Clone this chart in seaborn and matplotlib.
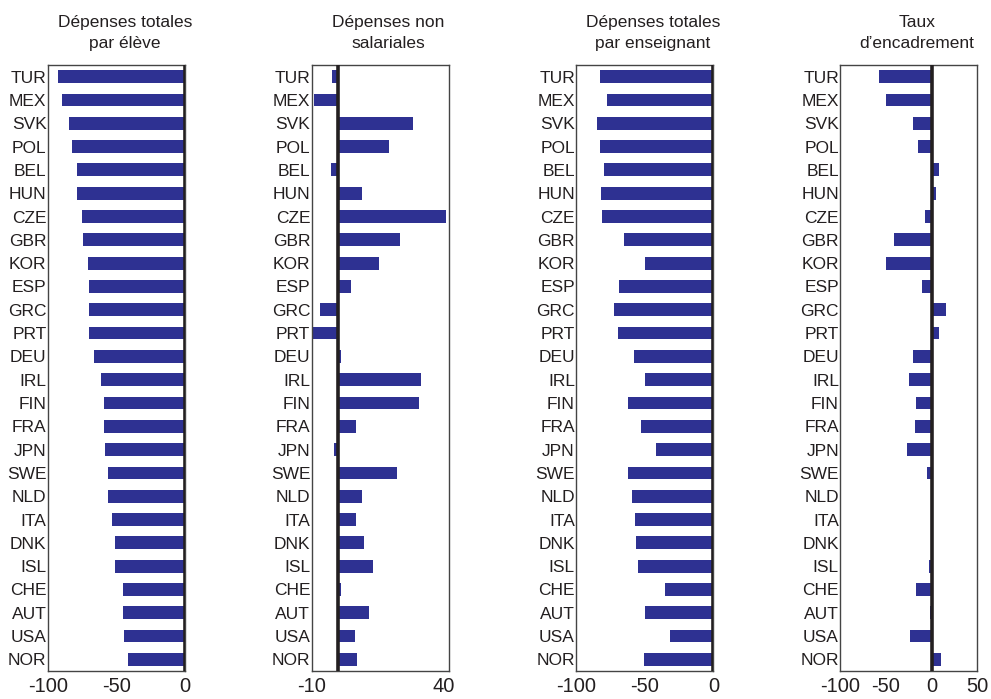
import matplotlib
matplotlib.use("Agg")
import matplotlib.pyplot as plt
import seaborn as sns
import pandas as pd

countries = ["TUR", "MEX", "SVK", "POL", "BEL", "HUN", "CZE", "GBR", "KOR", "ESP",
             "GRC", "PRT", "DEU", "IRL", "FIN", "FRA", "JPN", "SWE", "NLD", "ITA",
             "DNK", "ISL", "CHE", "AUT", "USA", "NOR"]

depenses_par_eleve = [-92.9, -90.0, -85.0, -82.6, -78.7, -78.7, -75.5, -74.5, -71.0, -70.3,
                      -70.3, -70.0, -66.4, -61.0, -59.0, -59.0, -58.6, -56.4, -56.0, -53.4,
                      -51.0, -51.0, -45.6, -45.4, -44.4, -41.7]

depenses_non_salariales = [-2.4, -9.1, 28.5, 19.5, -2.8, 9.0, 41.0, 23.7, 15.6, 4.8,
                           -7.0, -9.6, 1.1, 31.4, 30.7, 6.8, -1.4, 22.2, 9.0, 6.8,
                           9.8, 13.2, 1.1, 11.8, 6.3, 7.2]

depenses_par_enseignant = [-82.4, -77.3, -84.8, -82.4, -79.7, -81.7, -81.2, -65.0, -49.6, -68.5,
                           -72.6, -69.4, -57.9, -49.6, -61.9, -52.8, -41.8, -61.9, -59.2, -57.2,
                           -56.2, -54.8, -35.2, -49.6, -31.3, -50.6]

taux_encadrement = [-57.5, -50.5, -21.0, -15.0, 7.5, 4.8, -7.5, -41.5, -50.0, -10.5,
                    16.0, 8.4, -20.5, -25.0, -17.5, -18.0, -27.0, -5.0, 0.4, 1.8,
                    1.8, -3.0, -17.5, -2.0, -23.5, 9.9]

titles = ["Dépenses totales\npar élève", "Dépenses non\nsalariales",
          "Dépenses totales\npar enseignant", "Taux\nd\u2019encadrement"]
series = [depenses_par_eleve, depenses_non_salariales, depenses_par_enseignant, taux_encadrement]
xlims = [(-100, 0), (-10, 42), (-100, 0), (-100, 50)]
xticks = [[-100, -50, 0], [-10, 40], [-100, -50, 0], [-100, -50, 0, 50]]

sns.set_style("white")
plt.rcParams["font.family"] = ["Liberation Sans", "DejaVu Sans"]

bar_color = "#2e3192"
ink = "#231f20"

fig = plt.figure(figsize=(9.91, 6.99), dpi=100)
lefts = [0.0484, 0.3145, 0.5815, 0.848]
width = 0.1383
bottom, top = 0.040, 0.907

for i in range(4):
    ax = fig.add_axes([lefts[i], bottom, width, top - bottom])
    df = pd.DataFrame({"pays": countries, "valeur": series[i]})
    sns.barplot(data=df, x="valeur", y="pays", orient="h", color=bar_color,
                saturation=1, width=0.55, ax=ax, linewidth=0)
    ax.set_xlim(*xlims[i])
    ax.set_ylim(len(countries) - 0.5, -0.5)
    ax.set_xticks(xticks[i])
    ax.set_xticklabels([str(t) for t in xticks[i]], fontsize=14.5, color=ink)
    ax.set_xlabel("")
    ax.set_ylabel("")
    ax.tick_params(axis="x", direction="in", length=4, width=0.8, color=ink, pad=4)
    ax.tick_params(axis="y", length=0, pad=1, labelsize=12.5, labelcolor=ink)
    for s in ax.spines.values():
        s.set_visible(True)
        s.set_color("#444444")
        s.set_linewidth(1.0)
    ax.axvline(0, color=ink, lw=2.6, zorder=5)
    ax.set_title(titles[i], fontsize=12.5, color=ink, pad=12, x=0.56, linespacing=1.55)

fig.savefig("out.png", dpi=100)
